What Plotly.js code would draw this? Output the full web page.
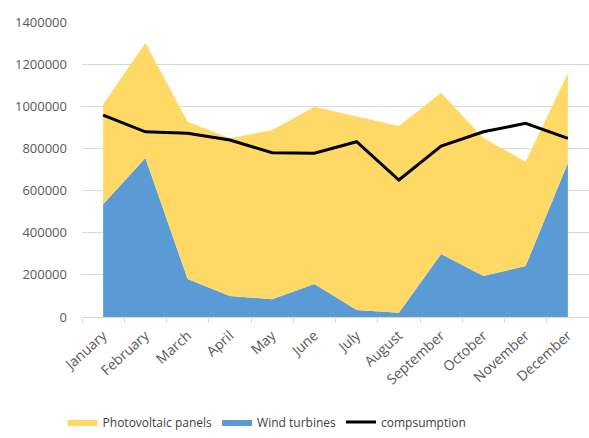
<!DOCTYPE html>
<html>
<head>
<meta charset="utf-8">
<script src="https://cdn.plot.ly/plotly-3.0.1.min.js"></script>
<style>html,body{margin:0;padding:0;background:#fff;}#chart{width:589px;height:438px;}</style>
</head>
<body>
<div id="chart"></div>
<script>
const months = ["January","February","March","April","May","June","July","August","September","October","November","December"];
const windTurbines = [535000, 755000, 180000, 100000, 84000, 157000, 33000, 20000, 299000, 195000, 242000, 731000];
const photovoltaicPanels = [475000, 545000, 747000, 748000, 803000, 841000, 918000, 886000, 765000, 655000, 495000, 426000];
const consumption = [958000, 879000, 872000, 840000, 780000, 777000, 832000, 650000, 811000, 879000, 919000, 848000];
const yTicks = [0, 200000, 400000, 600000, 800000, 1000000, 1200000, 1400000];

const fontFam = "Open Sans, Noto Sans, sans-serif";
const traces = [
  {x: months, y: windTurbines, name: "Wind turbines", type: "scatter", mode: "lines",
   stackgroup: "one", line: {width: 0, color: "#5B9BD5"}, fillcolor: "#5B9BD5", legendrank: 2},
  {x: months, y: photovoltaicPanels, name: "Photovoltaic panels", type: "scatter", mode: "lines",
   stackgroup: "one", line: {width: 0, color: "#FFD966"}, fillcolor: "#FFD966", legendrank: 1},
  {x: months, y: consumption, name: "compsumption", type: "scatter", mode: "lines",
   line: {width: 3, color: "#000000"}, legendrank: 3}
];
const layout = {
  width: 589, height: 438,
  margin: {l: 82, r: 0, t: 22, b: 121},
  paper_bgcolor: "#ffffff", plot_bgcolor: "#ffffff",
  font: {family: fontFam, size: 13, color: "#595959"},
  showlegend: true,
  legend: {orientation: "h", x: 0.365, xanchor: "center", y: -0.405, yanchor: "bottom",
           font: {size: 12, color: "#404040"}, traceorder: "normal", tracegroupgap: 0},
  xaxis: {type: "category", range: [-0.5, 11.5], tickangle: -42, showgrid: false, automargin: false,
          showline: true, linecolor: "#d9d9d9", linewidth: 1, ticks: "outside", tickson: "boundaries",
          ticklen: 5, tickcolor: "#d9d9d9", ticklabelstandoff: 4,
          tickfont: {size: 14, color: "#595959"}, zeroline: false, fixedrange: true},
  yaxis: {range: [0, 1400000], tickvals: yTicks, ticktext: yTicks.map(String), showgrid: true, automargin: false,
          gridcolor: "#d9d9d9", gridwidth: 1, zeroline: false, showline: false,
          ticklabelstandoff: 14, tickfont: {size: 13, color: "#595959"}, fixedrange: true}
};
Plotly.newPlot("chart", traces, layout, {displayModeBar: false, staticPlot: true});
</script>
</body>
</html>
